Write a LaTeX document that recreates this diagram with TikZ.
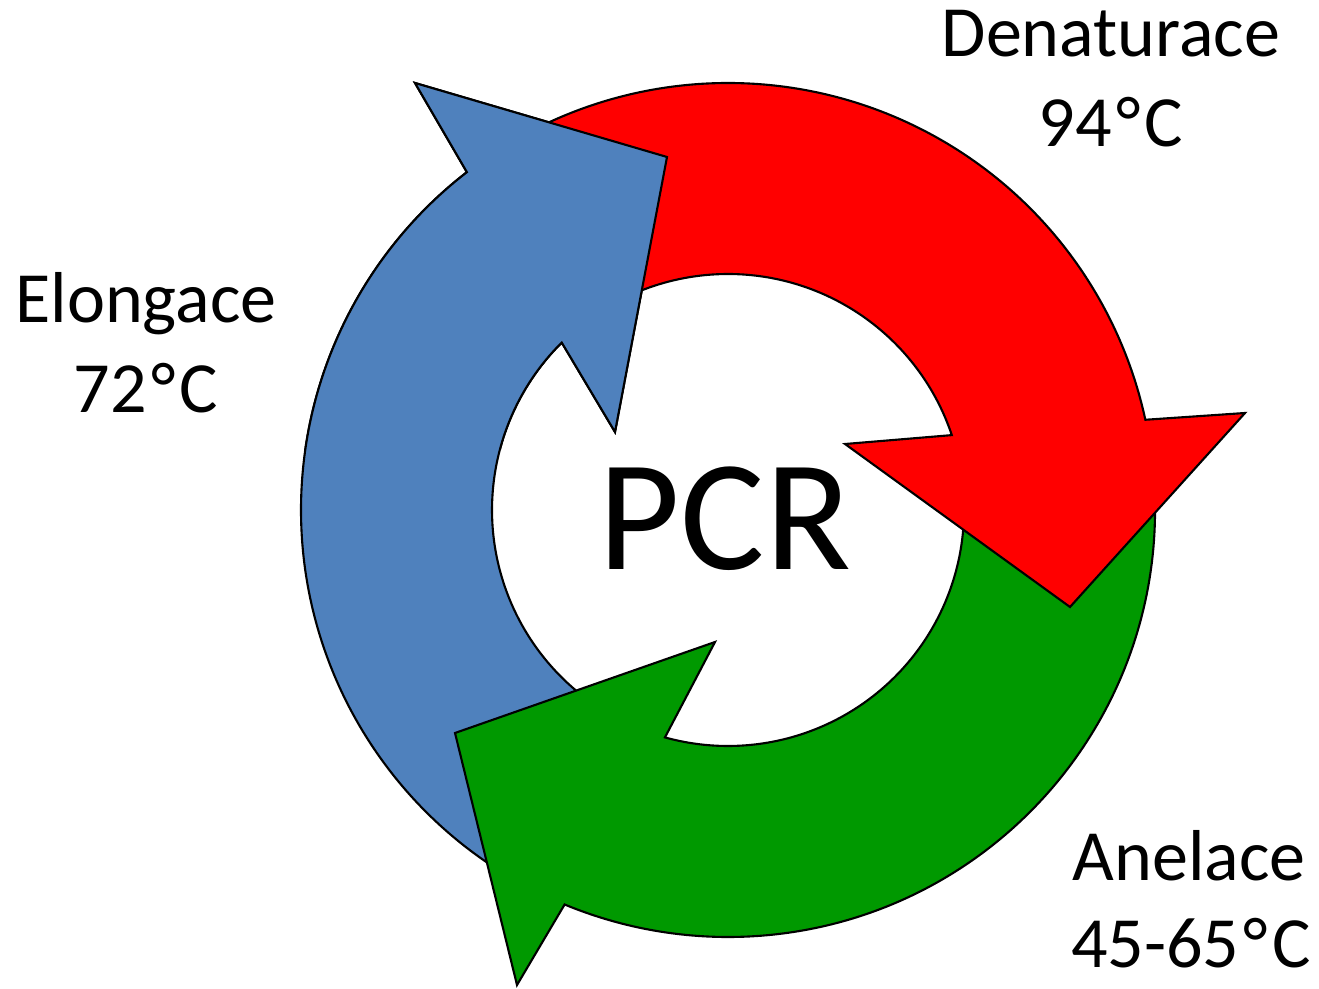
\documentclass[tikz,border=0pt]{standalone}
\usepackage{fontspec}
\setmainfont{Carlito}
\definecolor{pcrblue}{RGB}{79,129,189}
\definecolor{pcrred}{RGB}{255,0,0}
\definecolor{pcrgreen}{RGB}{0,153,0}
\newcommand\degC{\kern0.06em°\kern0.06em C}
\tikzset{
  cyclearrow/.style={draw=black, line width=0.6pt, line join=miter},
  phase/.style={font=\fontsize{20.5}{25}\selectfont, anchor=base, inner sep=0pt},
  bigtitle/.style={font=\fontsize{45}{54}\selectfont, anchor=base, inner sep=0pt}
}
\begin{document}
\begin{tikzpicture}[x=0.01cm, y=-0.01cm]
\useasboundingbox (0,0) rectangle (1319,989);
\coordinate (C) at (728,510);

\begin{scope}[shift={(C)}]
  % extension (blue): from lower left up to the top
  \filldraw[cyclearrow, fill=pcrblue]
    (120:236) -- (120:427) arc[start angle=120, end angle=232.3, radius=427]
    -- (-313,-427) -- (-61,-353) -- (-113,-78)
    -- (225.2:236) arc[start angle=225.2, end angle=120, radius=236] -- cycle;
  % annealing (green): from the right down and round to the left
  \filldraw[cyclearrow, fill=pcrgreen]
    (-3:236) -- (-3:427) arc[start angle=-3, end angle=112.5, radius=427]
    -- (-211,475) -- (-273,223) -- (-13,132)
    -- (105.5:236) arc[start angle=105.5, end angle=-3, radius=236] -- cycle;
  % denaturation (red): from the top round to the right
  \filldraw[cyclearrow, fill=pcrred]
    (240:236) -- (240:427) arc[start angle=240, end angle=347.8, radius=427]
    -- (517,-97) -- (342,97) -- (117,-66)
    -- (341.5:236) arc[start angle=341.5, end angle=240, radius=236] -- cycle;
  % blue head again, so that it lies over the tail of the red arrow
  \begin{scope}
    \clip (-728,-510) rectangle (591,-60);
    \filldraw[cyclearrow, fill=pcrblue]
      (120:236) -- (120:427) arc[start angle=120, end angle=232.3, radius=427]
      -- (-313,-427) -- (-61,-353) -- (-113,-78)
      -- (225.2:236) arc[start angle=225.2, end angle=120, radius=236] -- cycle;
  \end{scope}
\end{scope}

\node[bigtitle] (pcr) at (725,570) {PCR};

\node[phase] (den1) at (1111,57) {Denaturace};
\node[phase] (den2) at (1111,147) {94\degC};
\node[phase] (elo1) at (146,323) {Elongace};
\node[phase] (elo2) at (146,413) {72\degC};
\node[phase] (ane1) at (1189,880) {Anelace};
\node[phase] (ane2) at (1191,967) {45-65\degC};
\end{tikzpicture}
\end{document}
